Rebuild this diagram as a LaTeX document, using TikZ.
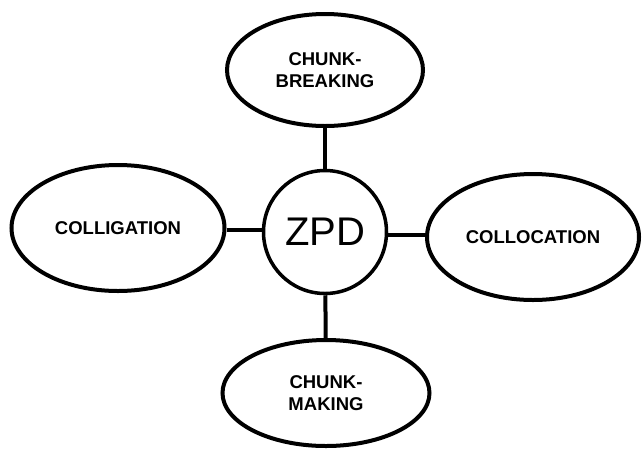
\documentclass[tikz,border=0pt]{standalone}
\usepackage{fontspec}
\setmainfont{Liberation Sans}
\usepackage{tikz}
\usetikzlibrary{shapes.geometric}
\tikzset{
    EL/.style ={ellipse, draw, line width=4pt, align=center, font=\fontsize{18.5}{22}\selectfont\bfseries, inner sep=0pt},
    CC/.style ={circle, draw, line width=3.5pt, minimum size=123pt, inner sep=0pt, font=\fontsize{40}{44}\selectfont},
    LN/.style ={line width=4pt}
}
\begin{document}
\begin{tikzpicture}[x=1pt,y=-1pt]
        \useasboundingbox (0,0) rectangle (642,451);
        \node[CC] (zpd) at (325,232){ZPD};
        \node[EL,minimum width=196pt,minimum height=112pt] (brk) at (325,70){CHUNK-\\BREAKING};
        \node[EL,minimum width=213pt,minimum height=126pt] (clg) at (118,228){COLLIGATION};
        \node[EL,minimum width=212pt,minimum height=126pt] (clc) at (533,237){COLLOCATION};
        \node[EL,minimum width=207pt,minimum height=106pt] (mak) at (326,393){CHUNK-\\MAKING};
        \draw[LN] (brk) -- (zpd);
        \draw[LN] (mak) -- (zpd);
        \draw[LN] (clg.east |- 0,230) -- (zpd.west |- 0,230);
        \draw[LN] (zpd.east |- 0,235) -- (clc.west |- 0,235);
    \end{tikzpicture}
\end{document}
